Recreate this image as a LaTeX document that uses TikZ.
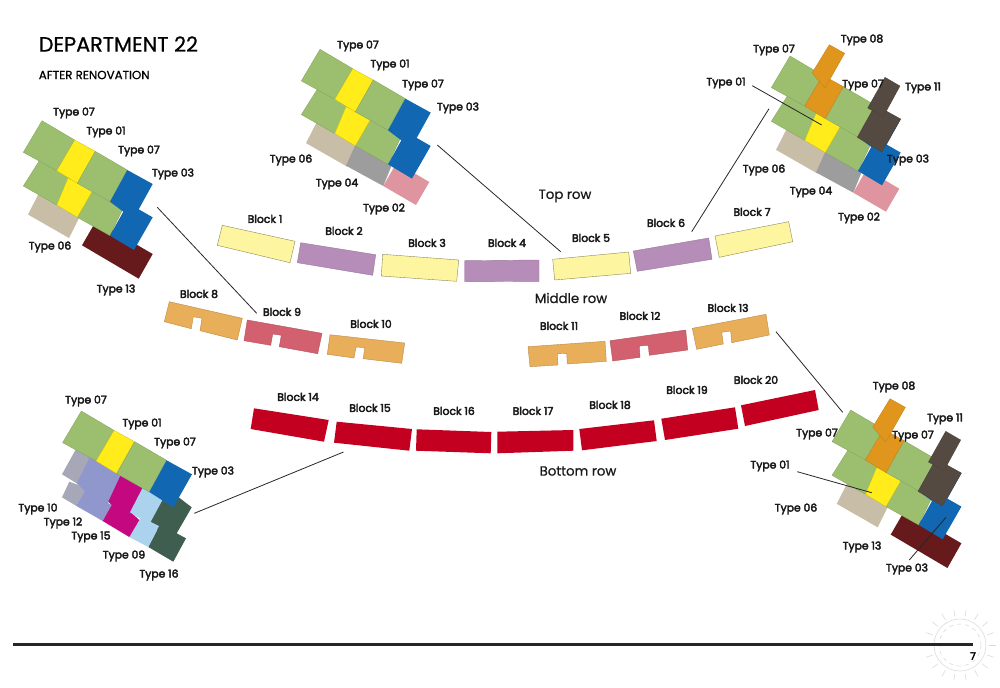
\documentclass[tikz,border=0pt]{standalone}
\usepackage{fontspec}
\setmainfont{Poppins}
\newfontfamily\labfont[FakeBold=3.5]{Poppins}
\newfontfamily\titlefont[FakeBold=0.7]{Poppins}
\definecolor{cgreen}{HTML}{9BBF6E}
\definecolor{cyellow}{HTML}{FFEC1A}
\definecolor{cblue}{HTML}{1167B1}
\definecolor{cmaroon}{HTML}{661A1C}
\definecolor{cbeige}{HTML}{C8BDA6}
\definecolor{cgrey}{HTML}{9D9D9D}
\definecolor{cpink}{HTML}{DE95A0}
\definecolor{corange}{HTML}{E0951C}
\definecolor{cdark}{HTML}{544A41}
\definecolor{cgbl}{HTML}{A6A8B8}
\definecolor{cperi}{HTML}{9097CC}
\definecolor{cmag}{HTML}{C4087F}
\definecolor{clight}{HTML}{ACD3EE}
\definecolor{cdkg}{HTML}{3F5E4F}
\definecolor{bya}{HTML}{FEF5A0}
\definecolor{bpu}{HTML}{B58DB8}
\definecolor{bta}{HTML}{E8AE5A}
\definecolor{bro}{HTML}{D2606F}
\definecolor{bre}{HTML}{C3001F}
\newcommand\GrA{(42,120.7)--(74.7,140)--(56.7,170.7)--(23.3,152.3)--cycle}
\newcommand\YeA{(74.7,140)--(95.3,151.3)--(77.3,183.3)--(56.7,170.7)--cycle}
\newcommand\GrB{(95.3,151.3)--(127.3,170)--(110,201.7)--(77.3,183.3)--cycle}
\newcommand\GrC{(41,158)--(72,176)--(56.7,205)--(23.3,186)--cycle}
\newcommand\YeB{(68,178)--(93,190)--(77.3,217.3)--(56.7,205)--cycle}
\newcommand\GrD{(91.3,190)--(123.3,208)--(110,235.7)--(77.3,217.3)--cycle}
\newcommand\BlU{(127.3,170)--(152.7,184)--(134,217)--(110,201.7)--cycle}
\newcommand\BlL{(127.3,170)--(152.7,184)--(138.7,209.3)--(152.7,217.3)--(134,250)--(110,235.7)--(123.3,211.7)--(110,201.7)--cycle}
\newcommand\Bge{(39,193)--(80,216)--(69,238)--(28,214.5)--cycle}
\newcommand\Gry{(78,215)--(114,236)--(105.3,257.4)--(68,237.1)--cycle}
\newcommand\Pnk{(118.6,234)--(151.3,253.4)--(138,276.4)--(105.3,257.4)--cycle}
\newcommand\Mar{(96,221)--(152.7,254)--(138.7,278.7)--(82,245.3)--cycle}
\newcommand\OrU{(81.3,109.4)--(96.7,118)--(77,152.7)--(64,137.7)--cycle}
\newcommand\DkU{(137,142)--(152,150.7)--(135.3,181.4)--(119.7,172.7)--cycle}
\newcommand\DkL{(127.3,169.7)--(152.7,183.7)--(133.7,216.7)--(109.3,202)--cycle}
\tikzset{
 lab/.style={font=\labfont\fontsize{8.1pt}{9pt}\selectfont,text=black!90,inner sep=0pt,yshift=-0.7pt},
 rowlab/.style={font=\titlefont\fontsize{10pt}{11pt}\selectfont,text=black!90,inner sep=0pt},
 fgr/.style={fill=cgreen,draw=cgreen!82!black,line width=.2pt},
 fye/.style={fill=cyellow,draw=cyellow!75!black,line width=.15pt},
 fbl/.style={fill=cblue},
 fbg/.style={fill=cbeige},
 fgy/.style={fill=cgrey},
 fpk/.style={fill=cpink},
 fmr/.style={fill=cmaroon},
 for/.style={fill=corange,draw=corange!85!black,line width=.2pt},
 fdk/.style={fill=cdark,draw=cdark!85!black,line width=.2pt},
 blk/.style={line width=.3pt},
 blya/.style={blk,fill=bya,draw=black!45!bya},
 blpu/.style={blk,fill=bpu,draw=bpu!85!black},
 blta/.style={blk,fill=bta,draw=bta!80!black},
 blro/.style={blk,fill=bro,draw=bro!85!black},
 blre/.style={fill=bre},
 leader/.style={draw=black!85,line width=.6pt},
 stamp/.style={draw=black!14,line width=.45pt},
}
\begin{document}
\begin{tikzpicture}[x=0.75pt,y=-0.75pt]
\useasboundingbox (0,0) rectangle (1000,687);
% cluster 1
\begin{scope}
\fill[fbg] \Bge; \fill[fmr] \Mar;
\path[fgr] \GrC; \path[fgr] \GrD; \path[fye] \YeB;
\path[fgr] \GrA; \path[fye] \YeA; \path[fgr] \GrB; \fill[fbl] \BlL;
\end{scope}
% cluster 2
\begin{scope}[shift={(278,-71.4)}]
\fill[fbg] \Bge; \fill[fpk] \Pnk; \fill[fgy] \Gry;
\path[fgr] \GrC; \path[fgr] \GrD; \path[fye] \YeB;
\path[fgr] \GrA; \path[fye] \YeA; \path[fgr] \GrB; \fill[fbl] \BlL;
\end{scope}
% cluster 3
\begin{scope}[shift={(748,-64.7)}]
\fill[fbg] \Bge; \fill[fpk] \Pnk; \fill[fgy] \Gry;
\path[fgr] \GrC; \path[fgr] \GrD; \path[fye] \YeB;
\path[fgr] \GrA; \path[fgr] \GrB; \fill[fbl] \BlL;
\path[for] \YeA; \path[for] \OrU;
\path[fdk] \DkL; \path[fdk] \DkU;
\end{scope}
% cluster 4
\path[fill=cdkg] (161.7,498)--(178.3,497)--(191.7,507.3)--(176.7,533.3)--(186,538.3)--(173.3,561.7)--(148.3,547)--(157.3,529.7)--(149.3,524.3)--cycle;
\path[fill=cgbl] (76,449)--(92,458)--(76.7,483.3)--(62,474.3)--cycle;
\path[fill=cgbl] (69.3,481.7)--(87,488)--(76,505.7)--(62,497.3)--cycle;
\path[fill=cperi] (90,457)--(122,475)--(108,503)--(111.7,505)--(102.7,521)--(76,505.7)--(85,491)--(76.7,483.3)--cycle;
\path[fill=clight] (141,517)--(159,526)--(148.3,547)--(129.3,537)--cycle;
\path[fill=cmag] (120.7,475)--(144,487.5)--(130.5,512)--(139.3,520)--(129.3,537)--(102.7,521)--(111.7,505)--(108.3,501.7)--cycle;
\path[fill=clight] (142.7,487.5)--(163,499)--(149.3,524.3)--(130,512.3)--cycle;
\begin{scope}[shift={(39.3,290.3)}]
\path[fgr] \GrA; \path[fye] \YeA; \path[fgr] \GrB;
\fill[fbl] \BlU;
\end{scope}
% cluster 5
\begin{scope}[shift={(808.7,289.3)}]
\fill[fbg] \Bge; \fill[fmr] \Mar;
\path[fgr] \GrC; \path[fgr] \GrD; \path[fye] \YeB;
\path[fgr] \GrA; \path[fgr] \GrB; \fill[fbl] \BlL;
\path[for] \YeA; \path[for] \OrU;
\path[fdk] \DkL; \path[fdk] \DkU;
\end{scope}
% blocks top
\path[blya] (222.3,225.3)--(295,241.3)--(290,262.7)--(217.3,245.3)--cycle;
\path[blpu] (300.7,242.7)--(375.7,254.7)--(372.7,275.3)--(297.3,262.7)--cycle;
\path[blya] (382.7,254.3)--(458.7,260)--(456.7,281.3)--(381.3,276)--cycle;
\path[blpu] (464.7,260.7)--(539,260)--(539,281.3)--(464.7,281.7)--cycle;
\path[blya] (552.7,259.3)--(628.7,252)--(630.7,273.3)--(554.7,280)--cycle;
\path[blpu] (633.3,251)--(708.7,238)--(712,259.3)--(637.3,271.3)--cycle;
\path[blya] (715,236)--(788.7,221.7)--(792.7,241.7)--(719.3,257.3)--cycle;
% blocks middle
\path[blta] (169.3,301.7)--(242.3,318.3)--(237.3,340)--(200,330.7)--(202,318.3)--(193.3,316.7)--(191.3,328.7)--(164.3,321.7)--cycle;
\path[blro] (247.3,320)--(322,333.3)--(317.7,353.7)--(279.3,346.7)--(281.3,335.3)--(272.7,334)--(270.7,345.3)--(244,340.7)--cycle;
\path[blta] (330,334.7)--(404.7,343)--(401.7,363.3)--(363.3,358.7)--(364.7,347.7)--(356,347)--(354,358)--(327.3,354.3)--cycle;
\path[blta] (528,346.7)--(605,341.3)--(606.3,361.3)--(567.3,364)--(566.7,353.3)--(557.3,353.7)--(558,365)--(530,366.7)--cycle;
\path[blro] (610,340.7)--(685.7,330)--(687.7,350)--(649.3,355.3)--(648.3,345.3)--(639.3,346)--(640,357.3)--(612.7,361)--cycle;
\path[blta] (692.3,328.3)--(766,314.3)--(769.3,335)--(731.7,342.7)--(730.7,331)--(721.7,332.3)--(723.3,344)--(696.7,349.3)--cycle;
% blocks bottom
\fill[blre] (254,408.3)--(328.7,420)--(324,441.7)--(250.7,429)--cycle;
\fill[blre] (336.7,421.7)--(412,429)--(409.3,450.7)--(334,442.7)--cycle;
\fill[blre] (416.7,429.3)--(491.3,432)--(490.7,453.3)--(416,450.7)--cycle;
\fill[blre] (497.3,431.7)--(573.3,430)--(573.3,450.7)--(497.3,453.3)--cycle;
\fill[blre] (579.3,429)--(654,420.3)--(656.7,441)--(582,450.3)--cycle;
\fill[blre] (661.3,418.7)--(735,407.3)--(738.3,428.7)--(665,440)--cycle;
\fill[blre] (741,405.3)--(815,390)--(818.7,410)--(745,426)--cycle;
% leader lines
\coordinate (la1) at (157.3,207.3); \coordinate (la2) at (256.7,313.3);
\coordinate (lb1) at (437.3,145);   \coordinate (lb2) at (560.7,251.7);
\coordinate (lc1) at (769,108.7);   \coordinate (lc2) at (691.7,231.7);
\coordinate (ld1) at (776,331.7);   \coordinate (ld2) at (842.7,412.3);
\coordinate (le1) at (194.3,513.3); \coordinate (le2) at (343.5,452);
\coordinate (lf1) at (752.3,85.7);  \coordinate (lf2) at (821.7,125);
\coordinate (lg1) at (797.3,471.7); \coordinate (lg2) at (871.7,492.7);
\coordinate (lh1) at (909.3,560);   \coordinate (lh2) at (946,517.3);
\foreach \p/\q in {la1/la2,lb1/lb2,lc1/lc2,ld1/ld2,le1/le2,lf1/lf2,lg1/lg2,lh1/lh2}
  \draw[leader] (\p) -- (\q);
% title
\node[anchor=west,font=\titlefont\fontsize{15.6pt}{17pt}\selectfont,inner sep=0pt] (title) at (38.5,44) {DEPARTMENT 22};
\node[anchor=west,font=\titlefont\fontsize{8.9pt}{10pt}\selectfont,inner sep=0pt] (subtitle) at (38.5,75) {AFTER RENOVATION};
% row labels
\node[rowlab] (rowtop) at (565,196) {Top row};
\node[rowlab] (rowmid) at (571,298) {Middle row};
\node[rowlab] (rowbot) at (578,471) {Bottom row};
% block labels
\foreach \n/\x/\y in {1/265/218,2/344/230,3/427/242,4/507/242,5/591/237,6/666/222,7/752/211,8/199/293,9/282/311,10/371/323,11/559/325,12/640/315,13/728/307,14/298/396,15/370/407,16/454/410,17/533/410,18/610/404,19/687/389,20/756/379}
  \node[lab] (bl\n) at (\x,\y) {Block \n};
% type labels
\foreach \i/\t/\x/\y in {a/07/74/112,b/01/106/131,c/07/139/150,d/03/173/173,e/06/50/246,f/13/116/289,
 g/07/358/45,h/01/390/64,i/07/423/84,j/03/458/107,k/06/291/159,l/04/337/183,m/02/384/208,
 n/08/862/39,o/07/774/49,p/01/726/82,q/07/863/84,r/11/923/87,s/03/908/159,t/06/764/169,u/04/811/191,v/02/859/217,
 w/07/86/400,x/01/142/423,y/07/175/442,z/03/213/471,aa/10/38/508,ab/12/63/522,ac/15/91/536,ad/09/124/555,ae/16/159/574,
 af/08/894/386,ag/11/945/418,ah/07/817/433,ai/07/913/435,aj/01/770/465,ak/06/796/508,al/13/862/546,am/03/907/568}
  \node[lab] (ty\i) at (\x,\y) {Type \t};
% watermark, rule and page mark
\draw[stamp] (960,645) circle (26);
\draw[stamp,dashed] (960,645) circle (21);
\foreach \a in {0,20,...,340}
  \draw[stamp] (960,645) ++(\a:29) -- ++(\a:7);
\path[fill=black!85] (13,643)rectangle(973,646);
\node[font=\labfont\fontsize{7.5pt}{9pt}\selectfont,inner sep=0pt] (page) at (973,656) {7};
\end{tikzpicture}
\end{document}
